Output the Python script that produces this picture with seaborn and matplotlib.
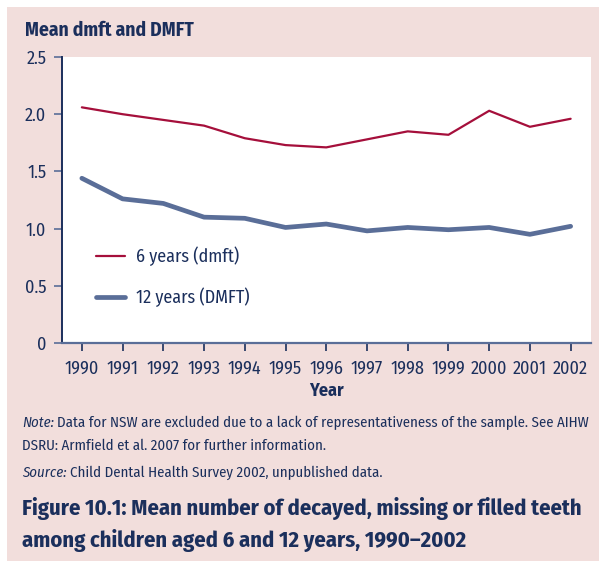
import matplotlib
matplotlib.use("Agg")
import matplotlib.pyplot as plt
import matplotlib.patches as mpatches
import seaborn as sns
import pandas as pd

# data
years = [1990, 1991, 1992, 1993, 1994, 1995, 1996, 1997, 1998, 1999, 2000, 2001, 2002]
dmft_6 = [2.06, 2.00, 1.95, 1.90, 1.79, 1.73, 1.71, 1.78, 1.85, 1.82, 2.03, 1.89, 1.96]
dmft_12 = [1.44, 1.26, 1.22, 1.10, 1.09, 1.01, 1.04, 0.98, 1.01, 0.99, 1.01, 0.95, 1.02]
y_ticks = [0, 0.5, 1.0, 1.5, 2.0, 2.5]
y_labels = ["0", "0.5", "1.0", "1.5", "2.0", "2.5"]

NAVY = "#1b2f5c"
RED = "#a50f3b"
BLUE = "#5a6e98"
PINK = "#f2dedc"

sns.set_style("white")
plt.rcParams["font.family"] = ["Fira Sans Condensed", "Archivo Narrow", "DejaVu Sans"]

W, H = 599, 561
fig = plt.figure(figsize=(W / 100, H / 100), dpi=100)
fig.patch.set_facecolor("white")
fig.patches.append(mpatches.Rectangle((7 / W, 0), 1, (H - 7) / H, transform=fig.transFigure,
                                      facecolor=PINK, edgecolor="none", zorder=-10))

ax = fig.add_axes([61.5 / W, (H - 343) / H, (591 - 61.5) / W, (343 - 57) / H])
ax.set_facecolor("white")

df = pd.DataFrame({"year": years, "six": dmft_6, "twelve": dmft_12})
sns.lineplot(data=df, x="year", y="six", color=RED, linewidth=1.6, ax=ax, label="6 years (dmft)")
sns.lineplot(data=df, x="year", y="twelve", color=BLUE, linewidth=3.4, ax=ax, label="12 years (DMFT)")

ax.set_xlim(1989.5, 2002.5)
ax.set_ylim(0, 2.5)
ax.set_xticks(years)
ax.set_xticklabels([str(y) for y in years], fontsize=13, color=NAVY)
ax.set_yticks(y_ticks)
ax.set_yticklabels(y_labels, fontsize=13, color=NAVY)
ax.tick_params(axis="x", length=6, width=1.2, color=NAVY, pad=6, direction="out", bottom=True)
ax.tick_params(axis="y", length=6, width=1.2, color=BLUE, pad=5, direction="out", left=True)

for side in ["top", "right"]:
    ax.spines[side].set_visible(False)
ax.spines["left"].set_color(NAVY)
ax.spines["left"].set_linewidth(1.4)
ax.spines["bottom"].set_color(BLUE)
ax.spines["bottom"].set_linewidth(1.6)

ax.set_xlabel("Year", fontsize=13, fontweight="bold", color=NAVY, labelpad=3)
ax.set_ylabel("")

ax.legend(loc="upper left", bbox_to_anchor=(0.035, 0.395), frameon=False,
          fontsize=13, labelcolor=NAVY, handlelength=1.6, handletextpad=0.6, labelspacing=1.2)

fig.text(25 / W, 1 - 30 / H, "Mean dmft and DMFT", fontsize=14, fontweight="bold",
         color=NAVY, va="center", ha="left")


def lead_text(y_px, lead, rest, size=10.7):
    # italic lead word, then the plain text right after it
    t = fig.text(22 / W, 1 - y_px / H, lead, fontsize=size, color=NAVY, va="center",
                 ha="left", fontstyle="italic")
    fig.canvas.draw()
    x1 = t.get_window_extent().x1
    fig.text((x1 + 3) / W, 1 - y_px / H, rest, fontsize=size, color=NAVY, va="center", ha="left")


lead_text(423, "Note:",
          "Data for NSW are excluded due to a lack of representativeness of the sample. See AIHW")
fig.text(22 / W, 1 - 446 / H, "DSRU: Armfield et al. 2007 for further information.",
         fontsize=10.7, color=NAVY, va="center", ha="left")
lead_text(473, "Source:", "Child Dental Health Survey 2002, unpublished data.")

fig.text(22 / W, 1 - 509 / H, "Figure 10.1: Mean number of decayed, missing or filled teeth",
         fontsize=16.2, fontweight="bold", color=NAVY, va="center", ha="left")
fig.text(22 / W, 1 - 541 / H, "among children aged 6 and 12 years, 1990\u20132002",
         fontsize=16.2, fontweight="bold", color=NAVY, va="center", ha="left")

fig.savefig("out.png", dpi=100)
